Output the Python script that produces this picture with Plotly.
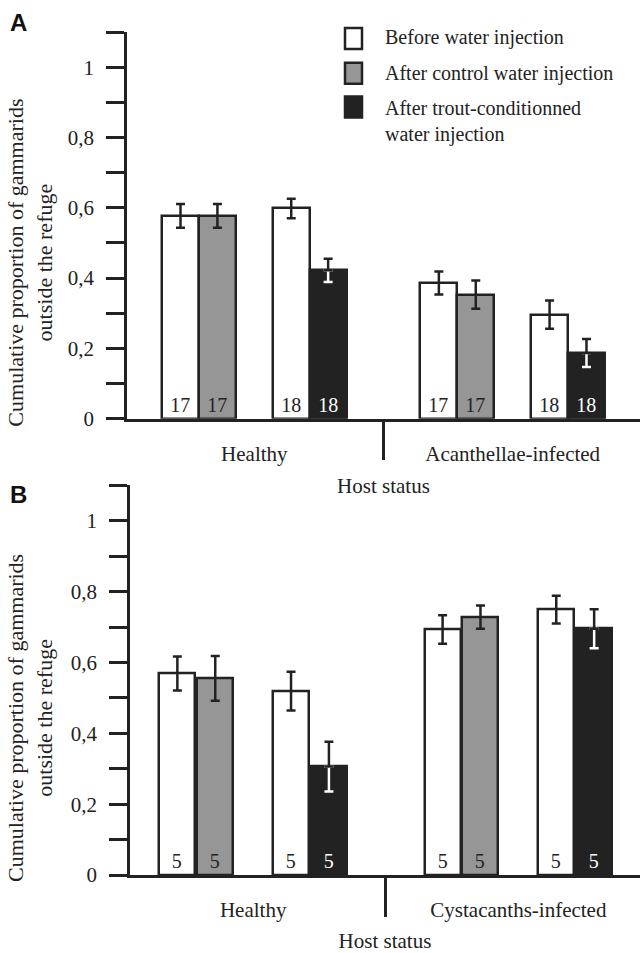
import plotly.graph_objects as go

# ---------------- data ----------------
categories_A = ["Healthy", "Acanthellae-infected"]
categories_B = ["Healthy", "Cystacanths-infected"]
series_names = ["Before water injection",
                "After control water injection",
                "After trout-conditionned<br>water injection"]

# Panel A  (control experiment pair, trout experiment pair) per host status
A_before_ctrl = [0.577, 0.386]
A_before_ctrl_err = [0.034, 0.033]
A_control = [0.577, 0.353]
A_control_err = [0.034, 0.040]
A_before_trout = [0.598, 0.296]
A_before_trout_err = [0.028, 0.040]
A_trout = [0.422, 0.187]
A_trout_err = [0.033, 0.040]
A_n_ctrl = [17, 17]
A_n_trout = [18, 18]

# Panel B
B_before_ctrl = [0.569, 0.693]
B_before_ctrl_err = [0.048, 0.040]
B_control = [0.555, 0.728]
B_control_err = [0.063, 0.033]
B_before_trout = [0.519, 0.749]
B_before_trout_err = [0.055, 0.039]
B_trout = [0.306, 0.695]
B_trout_err = [0.070, 0.055]
B_n_ctrl = [5, 5]
B_n_trout = [5, 5]

y_tickvals = [0, 0.2, 0.4, 0.6, 0.8, 1]
y_ticktext = ["0", "0,2", "0,4", "0,6", "0,8", "1"]
y_minor = [0.1, 0.3, 0.5, 0.7, 0.9, 1.1]
x_title = "Host status"
y_title = "Cumulative proportion of gammarids<br>outside the refuge"
panel_labels = ["A", "B"]

# ---------------- style ----------------
DARK = "#222222"
GRAY = "#969696"
WHITE = "#ffffff"
SERIF = "Liberation Serif, Times New Roman, serif"
SANS = "Liberation Sans, Arial, sans-serif"
FS = 21

W, H = 642, 953
ML, MR, MT, MB = 127, 2, 32, 73
PW, PH = W - ML - MR, H - MT - MB


def px2x(px):
    return (px - ML) / PW


def px2y(py):
    return (H - MB - py) / PH


fig = go.Figure()


def add_panel(xa, ya, before_ctrl, before_ctrl_err, control, control_err,
              before_trout, before_trout_err, trout, trout_err, n_ctrl, n_trout, bw):
    ctrl_c = [2 + 7 * i for i in range(len(control))]
    trout_c = [5 + 7 * i for i in range(len(trout))]
    common = dict(xaxis=xa, yaxis=ya, width=bw, showlegend=False,
                  textposition="inside", insidetextanchor="start", textangle=0,
                  hoverinfo="skip")
    # white bars
    fig.add_trace(go.Bar(
        x=[c - 0.5 for c in ctrl_c] + [c - 0.5 for c in trout_c],
        y=before_ctrl + before_trout,
        text=[str(v) for v in n_ctrl + n_trout],
        textfont=dict(family=SERIF, size=20, color=DARK),
        marker=dict(color=WHITE, line=dict(color=DARK, width=2.5)),
        error_y=dict(type="data", array=before_ctrl_err + before_trout_err,
                     color=DARK, thickness=2.5, width=4.5),
        **common))
    # gray bars
    fig.add_trace(go.Bar(
        x=[c + 0.5 for c in ctrl_c], y=control,
        text=[str(v) for v in n_ctrl],
        textfont=dict(family=SERIF, size=20, color=DARK),
        marker=dict(color=GRAY, line=dict(color=DARK, width=2.5)),
        error_y=dict(type="data", array=control_err,
                     color=DARK, thickness=2.5, width=4.5),
        **common))
    # black bars
    fig.add_trace(go.Bar(
        x=[c + 0.5 for c in trout_c], y=trout,
        text=[str(v) for v in n_trout],
        textfont=dict(family=SERIF, size=20, color=WHITE),
        marker=dict(color=DARK, line=dict(color=DARK, width=2.5)),
        **common))
    # error bars on black bars: white inside, dark outside
    fig.add_trace(go.Scatter(
        x=[c + 0.5 for c in trout_c], y=trout, mode="markers",
        marker=dict(size=1, color="rgba(0,0,0,0)"), xaxis=xa, yaxis=ya,
        showlegend=False, hoverinfo="skip",
        error_y=dict(type="data", symmetric=False, array=[0] * len(trout),
                     arrayminus=trout_err, color=WHITE, thickness=2.5, width=4.5)))
    fig.add_trace(go.Scatter(
        x=[c + 0.5 for c in trout_c], y=trout, mode="markers",
        marker=dict(size=1, color="rgba(0,0,0,0)"), xaxis=xa, yaxis=ya,
        showlegend=False, hoverinfo="skip",
        error_y=dict(type="data", symmetric=False, array=trout_err,
                     arrayminus=[0] * len(trout), color=DARK, thickness=2.5, width=4.5)))


add_panel("x", "y", A_before_ctrl, A_before_ctrl_err, A_control, A_control_err,
          A_before_trout, A_before_trout_err, A_trout, A_trout_err, A_n_ctrl, A_n_trout, 1.0)
add_panel("x2", "y2", B_before_ctrl, B_before_ctrl_err, B_control, B_control_err,
          B_before_trout, B_before_trout_err, B_trout, B_trout_err, B_n_ctrl, B_n_trout, 0.95)


def xaxis_cfg(domain, rng, cats, anchor):
    return dict(domain=domain, range=rng, anchor=anchor,
                showline=True, linecolor=DARK, linewidth=2.5,
                tickmode="array", tickvals=[3.5, 10.5], ticktext=cats,
                ticks="", ticklabelstandoff=14,
                tickfont=dict(family=SERIF, size=FS, color=DARK),
                minor=dict(tickmode="array", tickvals=[7], ticks="outside",
                           ticklen=39, tickwidth=2.5, tickcolor=DARK, showgrid=False),
                title=dict(text=x_title, standoff=14,
                           font=dict(family=SERIF, size=FS, color=DARK)),
                showgrid=False, zeroline=False, fixedrange=True)


def yaxis_cfg(domain, anchor):
    return dict(domain=domain, range=[0, 1.1], anchor=anchor,
                showline=True, linecolor=DARK, linewidth=2.5,
                tickmode="array", tickvals=y_tickvals, ticktext=y_ticktext,
                ticks="outside", ticklen=18, tickwidth=2.5, tickcolor=DARK,
                ticklabelstandoff=8,
                minor=dict(tickmode="array", tickvals=y_minor, ticks="outside",
                           ticklen=18, tickwidth=2.5, tickcolor=DARK, showgrid=False),
                tickfont=dict(family=SERIF, size=FS, color=DARK),
                showgrid=False, zeroline=False, fixedrange=True)


fig.update_layout(
    width=W, height=H,
    margin=dict(l=ML, r=MR, t=MT, b=MB),
    plot_bgcolor=WHITE, paper_bgcolor=WHITE,
    bargap=0, showlegend=False,
    xaxis=xaxis_cfg([0, 1], [0.05, 13.95], categories_A, "y"),
    yaxis=yaxis_cfg([px2y(421), 1], "x"),
    xaxis2=xaxis_cfg([px2x(130), 1], [0.25, 13.71], categories_B, "y2"),
    yaxis2=yaxis_cfg([0, px2y(488)], "x2"),
)

# y-axis titles (placed like the original, slightly below the axis centre)
for py in [264, 722]:
    fig.add_annotation(xref="paper", yref="paper", x=px2x(30), y=px2y(py),
                       text=y_title, showarrow=False, textangle=-90,
                       xanchor="center", yanchor="middle", align="center",
                       font=dict(family=SERIF, size=22, color=DARK))

# custom legend
legend_fill = [WHITE, GRAY, DARK]
legend_rows = [(28, 49, 38), (63, 84, 74), (97, 118, 122)]
for name, fill, (t, b, ty) in zip(series_names, legend_fill, legend_rows):
    fig.add_shape(type="rect", xref="paper", yref="paper",
                  x0=px2x(345), x1=px2x(362), y0=px2y(b), y1=px2y(t),
                  fillcolor=fill, line=dict(color=DARK, width=2.5))
    fig.add_annotation(xref="paper", yref="paper", x=px2x(383), y=px2y(ty),
                       text=name, showarrow=False, xanchor="left", yanchor="middle",
                       align="left", font=dict(family=SERIF, size=20, color=DARK))

# panel letters
for lab, py in zip(panel_labels, [22, 497]):
    fig.add_annotation(xref="paper", yref="paper", x=px2x(8), y=px2y(py),
                       text="<b>%s</b>" % lab, showarrow=False, xanchor="left",
                       yanchor="middle", font=dict(family=SANS, size=24, color="#111"))

fig.write_html("out.html")
